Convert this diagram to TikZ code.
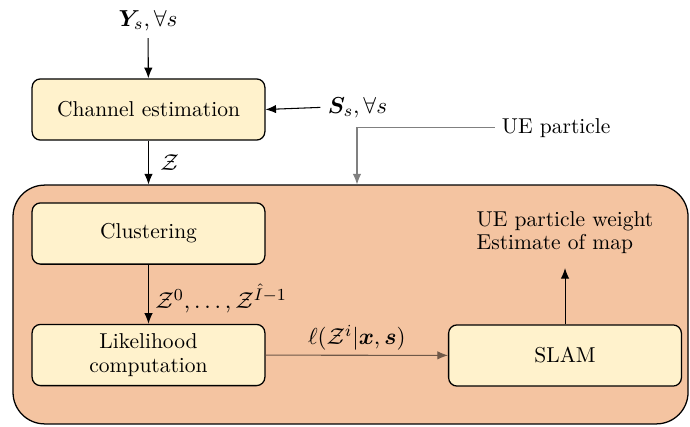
\documentclass[tikz,border=0pt]{standalone}
\usepackage{amsmath,bm}
\usetikzlibrary{arrows.meta,positioning}
\definecolor{boxfill}{RGB}{255,242,204}
\definecolor{pffill}{RGB}{244,196,161}
\begin{document}
\begin{tikzpicture}[
  font=\fontsize{10.2}{12.2}\selectfont,
  block/.style={
    draw,
    rounded corners=4pt,
    minimum width=3.88cm,
    minimum height=1.02cm,
    fill=boxfill,
    align=center,
    line width=.6pt
  },
  sym/.style={font=\fontsize{11.4}{13.6}\selectfont},
  link/.style={line width=.5pt,-{Latex[length=5pt,width=4pt]}},
  greylink/.style={link,draw=black!50}
]
  \useasboundingbox (0,0) rectangle (11.5,7.1);

  % particle filter region behind the inner blocks
  \node[draw,line width=.6pt,fill=pffill,rounded corners=15pt,
    minimum width=11.25cm,minimum height=3.98cm] (pf) at (5.842,2.025) {};

  % blocks
  \node[block] (chan) at (2.475,5.275) {Channel estimation};
  \node[block] (clust) at (2.475,3.208) {Clustering};
  \node[block,text width=3.6cm] (lik) at (2.475,1.183)
    {Likelihood\\[-1pt] computation};
  \node[block] (slam) at (9.417,1.175) {SLAM};

  % inputs and outputs
  \node[sym] (meas) at (2.467,6.76) {$\bm{Y}_s, \forall s$};
  \node[sym,anchor=west] (pilot) at (5.34,5.31) {$\bm{S}_s, \forall s$};
  \node (ue) at (9.27,4.97) {UE particle};
  \node[align=left] (out) at (9.417,3.22)
    {UE particle weight\\[-1pt] Estimate of map};
  \coordinate (uecorner) at (5.95,4.997);

  % connectors
  \draw[link] (meas) -- (chan);
  \draw[link] (pilot.west) -- (chan.east);
  \draw[link] (chan) -- node[sym,right=2pt] {$\mathcal{Z}$} (clust.north |- pf.north);
  \draw[link] (clust) -- node[sym,right=2pt,inner sep=1pt,yshift=-2pt]
    {$\mathcal{Z}^0,\ldots,\mathcal{Z}^{\hat{I}-1}$} (lik);
  \draw[link,draw=pffill!45!black] (lik) -- node[sym,above=0pt,inner sep=2pt,text=black]
    {$\ell(\mathcal{Z}^i|\bm{x},\bm{s})$} (slam);
  \draw[link] (slam) -- (out.south |- 0,2.633);
  \draw[greylink] (ue.west) -| (uecorner |- pf.north);
\end{tikzpicture}
\end{document}
